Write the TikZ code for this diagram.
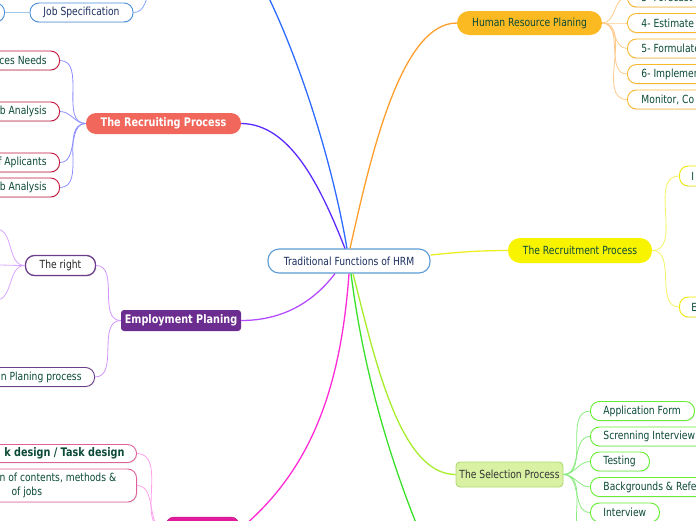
\documentclass[tikz,border=0pt]{standalone}
\usepackage{fontspec}
\setmainfont[FakeStretch=0.82]{DejaVu Sans}
\usetikzlibrary{shadows}
\definecolor{dgreen}{HTML}{0B4A38}
\definecolor{navy}{HTML}{1B2F5E}
\definecolor{cblue}{HTML}{2E6BFF}
\definecolor{cviolet}{HTML}{5B2BFF}
\definecolor{corange}{HTML}{FF9E2C}
\definecolor{cyellow}{HTML}{EEEE22}
\definecolor{cpurple}{HTML}{B44CFF}
\definecolor{cmagenta}{HTML}{FF2BD6}
\definecolor{cgreen}{HTML}{3ADF2A}
\definecolor{cygreen}{HTML}{A6EE2C}
\definecolor{salmon}{HTML}{F2675C}
\definecolor{crimson}{HTML}{C4163E}
\definecolor{eplum}{HTML}{6B2D8F}
\definecolor{eborder}{HTML}{6B3D8A}
\definecolor{pinkfill}{HTML}{E21A9C}
\definecolor{pinkborder}{HTML}{E0609A}
\definecolor{gold}{HTML}{FBB922}
\definecolor{goldborder}{HTML}{F9B82B}
\definecolor{yfill}{HTML}{F8F400}
\definecolor{yborder}{HTML}{F0E800}
\definecolor{selfill}{HTML}{D9F1A3}
\definecolor{selborder}{HTML}{B0D870}
\definecolor{gborder}{HTML}{66EE33}
\definecolor{jsborder}{HTML}{4A90D9}
\definecolor{hrmborder}{HTML}{5B9BD5}
\newcommand\myfs{\fontsize{11.2}{13.5}\selectfont}
\newcommand\mybf{\fontsize{11.8}{13.5}\selectfont\bfseries}
\newcommand\lb[2]{\makebox[#1pt][l]{#2}}
\newcommand\rb[2]{\makebox[#1pt][r]{#2}}
\tikzset{
  base/.style={font=\myfs, text=dgreen, inner ysep=0pt, inner xsep=0pt},
  child/.style={base, draw, fill=white, rounded corners=9pt, line width=0.9pt,
    minimum height=19pt, inner xsep=13pt,
    drop shadow={opacity=0.15, shadow xshift=0.6pt, shadow yshift=-1.2pt}},
  topic/.style={base, minimum height=24pt, rounded corners=12pt},
  conn/.style={line width=0.8pt},
  mainline/.style={line width=1.3pt},
}
\begin{document}
\begin{tikzpicture}[x=1pt,y=-1pt]
\useasboundingbox (0,0) rectangle (696,520);
\clip (0,0) rectangle (696,520);

% off-canvas end points
\coordinate (bluetop) at (265,-10);
\coordinate (jsp) at (152,-15);
\coordinate (tr1) at (-4,229);
\coordinate (tr2) at (-4,265);
\coordinate (tr3) at (-4,300);
\coordinate (gbot) at (425,545);
\coordinate (sc6) at (590,545);

% central
\node[base, draw=hrmborder, fill=white, line width=1.1pt, rounded corners=11pt,
  minimum width=162pt, minimum height=24pt, text=navy] (hrm) at (349,261) {Traditional Functions of HRM};

% Job specification
\node[child, draw=jsborder, text=navy, minimum width=103pt] (js) at (81.5,12.5) {Job Specification};
\node[child, draw=jsborder, anchor=east, minimum width=60pt] (jsl) at (5,12.5) {};

% Recruiting process
\node[topic, fill=salmon, text=white, font=\mybf, minimum width=155pt, minimum height=21pt, rounded corners=10pt] (rp) at (163.5,123.5) {The Recruiting Process};
\node[child, draw=crimson, anchor=east] (rc1) at (60,60.5) {\rb{140}{ces Needs}};
\node[child, draw=crimson, anchor=east] (rc2) at (60,111.5) {\rb{140}{b Analysis}};
\node[child, draw=crimson, anchor=east] (rc3) at (60,162.5) {\rb{140}{f Aplicants}};
\node[child, draw=crimson, anchor=east] (rc4) at (60,187.5) {\rb{140}{b Analysis}};

% Employment planing
\node[base, fill=eplum, text=white, font=\mybf, minimum width=120pt, minimum height=21pt, rounded corners=3pt] (ep) at (181,320.5) {Employment Planing};
\node[child, draw=eborder, line width=1.3pt, text=black!85, minimum width=70pt, minimum height=20pt, inner xsep=0pt] (tr) at (60.5,265.5) {The right};
\node[child, draw=eborder, anchor=east] (ec2) at (95,377) {\rb{140}{n Planing process}};

% Pink (job design)
\node[base, fill=pinkfill, draw=pinkfill!80!black, minimum width=73pt, minimum height=26pt, rounded corners=8pt] (pk) at (202.5,530) {};
\node[child, draw=pinkborder, anchor=east, inner xsep=12pt, minimum height=18pt, font=\mybf] (pc1) at (137,453.5) {\rb{140}{k design / Task design}};
\node[child, draw=pinkborder, anchor=east, inner xsep=12pt, minimum height=33pt, align=left] (pc2) at (137,485.5)
  {\lb{125}{n of contents, methods \&}\\\lb{125}{\hspace*{12pt}of jobs}};

% Human resource planing
\node[topic, fill=gold, minimum width=145pt] (hr) at (529.5,23) {Human Resource Planing};
\node[child, draw=goldborder, anchor=west, inner xsep=14pt] (hc1) at (627,-2.5) {\lb{130}{3- Forecast E}};
\node[child, draw=goldborder, anchor=west, inner xsep=14pt] (hc2) at (627,23) {\lb{130}{4- Estimate}};
\node[child, draw=goldborder, anchor=west, inner xsep=14pt] (hc3) at (627,48.5) {\lb{130}{5- Formulate}};
\node[child, draw=goldborder, anchor=west, inner xsep=14pt] (hc4) at (627,74) {\lb{130}{6- Implemen}};
\node[child, draw=goldborder, anchor=west, inner xsep=14pt] (hc5) at (627,99.5) {\lb{130}{Monitor, Co}};

% Recruitment process
\node[topic, fill=yfill, minimum width=144pt, minimum height=25pt] (rec) at (580,250.5) {The Recruitment Process};
\node[child, draw=yborder, anchor=west, inner xsep=12pt, minimum height=20pt] (ri1) at (679,176) {\lb{60}{I}};
\node[child, draw=yborder, anchor=west, inner xsep=12pt, minimum height=20pt] (ri2) at (679,307) {\lb{60}{E}};

% Selection process
\node[base, fill=selfill, draw=selborder, line width=0.9pt, rounded corners=4pt, text=black!80,
  minimum width=107pt, minimum height=25pt] (sel) at (509.5,474.5) {The Selection Process};
\node[child, draw=gborder, anchor=west] (sc1) at (590,411) {\lb{78}{Application Form}};
\node[child, draw=gborder, anchor=west] (sc2) at (590,436.5) {\lb{130}{Screnning Interview}};
\node[child, draw=gborder, anchor=west] (sc3) at (590,461.5) {\lb{33}{Testing}};
\node[child, draw=gborder, anchor=west] (sc4) at (590,487) {\lb{130}{Backgrounds \& Refe}};
\node[child, draw=gborder, anchor=west] (sc5) at (590,512.5) {\lb{43}{Interview}};

% main branches
\draw[mainline, cblue] ([xshift=-2pt]hrm.north) .. controls (330,150) and (295,50) .. (bluetop);
\draw[mainline, cviolet] ([xshift=-4pt]hrm.north) .. controls (320,185) and (290,124) .. (rp.east);
\draw[mainline, corange] ([xshift=1pt]hrm.north) .. controls (370,160) and (400,23) .. (hr.west);
\draw[mainline, cyellow] ([yshift=6pt]hrm.east) .. controls (460,252) and (480,250.5) .. (rec.west);
\draw[mainline, cpurple] ([xshift=-14pt]hrm.south) .. controls (315,300) and (285,320.5) .. (ep.east);
\draw[mainline, cmagenta] (hrm.south) .. controls (340,400) and (305,475) .. (pk.east);
\draw[mainline, cgreen] ([xshift=2pt]hrm.south) .. controls (362,360) and (385,450) .. (gbot);
\draw[mainline, cygreen] ([xshift=4pt]hrm.south) .. controls (375,360) and (400,474.5) .. (sel.west);

% sub connectors
\draw[conn, jsborder!50] (jsl.east) -- (js.west);
\draw[conn, cblue!60] (js.east) to[out=0,in=240] (jsp);
\foreach \c in {rc1,rc2,rc3,rc4}
  \draw[conn, blue!45] (\c.east) to[out=0,in=180] (rp.west);
\draw[conn, cpurple!60] (tr.east) to[out=0,in=180] (ep.west);
\draw[conn, cpurple!60] (ec2.east) to[out=0,in=180] (ep.west);
\foreach \c in {tr1,tr2,tr3}
  \draw[conn, cpurple!50] (tr.west) to[out=180,in=0] (\c);
\foreach \c in {pc1,pc2}
  \draw[conn, cmagenta!45] (\c.east) to[out=0,in=180] (pk.west);
\foreach \c in {hc1,hc2,hc3,hc4,hc5}
  \draw[conn, corange!55] (hr.east) to[out=0,in=180] (\c.west);
\foreach \c in {ri1,ri2}
  \draw[conn, cyellow!70] (rec.east) to[out=0,in=180] (\c.west);
\foreach \c in {sc1,sc2,sc3,sc4,sc5}
  \draw[conn, cgreen!60] (sel.east) to[out=0,in=180] (\c.west);
\draw[conn, cgreen!60] (sel.east) to[out=0,in=180] (sc6);
\end{tikzpicture}
\end{document}
